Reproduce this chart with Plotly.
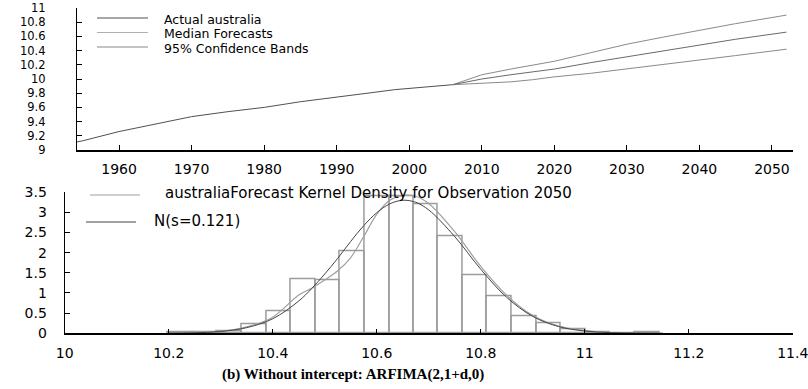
import plotly.graph_objects as go

# ---- top panel: history and forecast path ----
actual_years = [1954, 1955, 1960, 1965, 1970, 1975, 1980, 1985, 1990, 1995, 1998, 2002, 2006]
actual_vals = [9.11, 9.13, 9.26, 9.37, 9.47, 9.54, 9.60, 9.68, 9.75, 9.81, 9.85, 9.89, 9.92]

fc_years = [2006, 2008, 2010, 2014, 2017, 2020, 2025, 2030, 2035, 2040, 2045, 2052]
median_vals = [9.92, 9.96, 10.00, 10.06, 10.10, 10.14, 10.23, 10.31, 10.39, 10.48, 10.56, 10.66]
upper_vals = [9.92, 9.99, 10.06, 10.14, 10.19, 10.25, 10.37, 10.49, 10.59, 10.69, 10.78, 10.90]
lower_vals = [9.92, 9.93, 9.94, 9.96, 9.99, 10.03, 10.08, 10.14, 10.20, 10.27, 10.33, 10.42]

top_xticks = [1960, 1970, 1980, 1990, 2000, 2010, 2020, 2030, 2040, 2050]
top_yticks = [9, 9.2, 9.4, 9.6, 9.8, 10, 10.2, 10.4, 10.6, 10.8, 11]
top_ytext = ["9", "9.2", "9.4", "9.6", "9.8", "10", "10.2", "10.4", "10.6", "10.8", "11"]

# ---- bottom panel: forecast density for 2050 ----
bin_starts = [10.199, 10.246, 10.293, 10.341, 10.388, 10.435, 10.482, 10.529, 10.577, 10.624,
              10.671, 10.718, 10.765, 10.812, 10.860, 10.907, 10.954, 11.001, 11.048, 11.096]
bin_width = 0.0472
bin_heights = [0.02, 0.02, 0.06, 0.22, 0.54, 1.34, 1.31, 2.04, 3.40, 3.40,
               3.20, 2.41, 1.44, 0.93, 0.43, 0.25, 0.10, 0.02, 0.0, 0.025]

dens_x = [10.20, 10.25, 10.30, 10.35, 10.40, 10.45, 10.475, 10.50, 10.525, 10.55, 10.575, 10.60,
          10.625, 10.65, 10.675, 10.70, 10.75, 10.80, 10.85, 10.90, 10.95, 11.00, 11.05, 11.10, 11.15]
kernel_y = [0.01, 0.02, 0.05, 0.16, 0.40, 0.95, 1.12, 1.32, 1.55, 1.88, 2.40, 2.95,
            3.30, 3.42, 3.40, 3.22, 2.52, 1.66, 0.94, 0.44, 0.18, 0.07, 0.02, 0.01, 0.0]
normal_y = [0.003, 0.012, 0.045, 0.14, 0.36, 0.80, 1.11, 1.47, 1.86, 2.28, 2.67, 2.99,
            3.21, 3.30, 3.25, 3.06, 2.40, 1.59, 0.89, 0.42, 0.166, 0.056, 0.016, 0.004, 0.001]

bot_xticks = [10, 10.2, 10.4, 10.6, 10.8, 11, 11.2, 11.4]
bot_xtext = ["10", "10.2", "10.4", "10.6", "10.8", "11", "11.2", "11.4"]
bot_yticks = [0, 0.5, 1, 1.5, 2, 2.5, 3, 3.5]
bot_ytext = ["0", "0.5", "1", "1.5", "2", "2.5", "3", "3.5"]

W, H = 808, 389
FONT = "DejaVu Sans"

C_ACTUAL = "#505050"
C_MEDIAN = "#b0b0b0"
C_MEDIAN_LINE = "#6a6a6a"
C_BANDS = "#8a8a8a"
C_KERNEL = "#a0a0a0"
C_NORMAL = "#444444"
C_BARS = "#9c9c9c"


def px(x):
    return x / W


def py(y):
    return 1 - y / H


fig = go.Figure()

# top panel traces
fig.add_trace(go.Scatter(x=actual_years, y=actual_vals, mode="lines",
                         line=dict(color=C_ACTUAL, width=1), xaxis="x", yaxis="y"))
fig.add_trace(go.Scatter(x=fc_years, y=upper_vals, mode="lines",
                         line=dict(color=C_BANDS, width=1), xaxis="x", yaxis="y"))
fig.add_trace(go.Scatter(x=fc_years, y=lower_vals, mode="lines",
                         line=dict(color=C_BANDS, width=1), xaxis="x", yaxis="y"))
fig.add_trace(go.Scatter(x=fc_years, y=median_vals, mode="lines",
                         line=dict(color=C_MEDIAN_LINE, width=1), xaxis="x", yaxis="y"))

# bottom panel: histogram outlines
bin_centers = [s + bin_width / 2 for s in bin_starts]
fig.add_trace(go.Bar(x=bin_centers, y=bin_heights, width=bin_width,
                     marker=dict(color="rgba(255,255,255,0)",
                                 line=dict(color=C_BARS, width=1.5)),
                     xaxis="x2", yaxis="y2"))
fig.add_trace(go.Scatter(x=dens_x, y=kernel_y, mode="lines", line_shape="spline",
                         line=dict(color=C_KERNEL, width=1.2), xaxis="x2", yaxis="y2"))
fig.add_trace(go.Scatter(x=dens_x, y=normal_y, mode="lines", line_shape="spline",
                         line=dict(color=C_NORMAL, width=1), xaxis="x2", yaxis="y2"))


def axis_style(size):
    return dict(showgrid=False, zeroline=False, ticks="inside", ticklen=5,
                tickcolor="black", linecolor="black", showline=True, automargin=False,
                ticklabeloverflow="allow",
                tickfont=dict(family=FONT, size=size, color="black"))


fig.update_layout(
    width=W, height=H,
    margin=dict(l=0, r=0, t=0, b=0),
    paper_bgcolor="white", plot_bgcolor="white",
    showlegend=False,
    bargap=0,
    xaxis=dict(domain=[px(77), px(793)], range=[1954.2, 2052.9],
               tickmode="array", tickvals=top_xticks, linewidth=2,
               ticklabelstandoff=5, anchor="y", **axis_style(14)),
    yaxis=dict(domain=[py(150), py(8)], range=[9, 11],
               tickmode="array", tickvals=top_yticks, ticktext=top_ytext,
               linewidth=1.2, ticklabelstandoff=28, anchor="x", **axis_style(11.5)),
    xaxis2=dict(domain=[px(64.7), px(793)], range=[10, 11.4005],
                tickmode="array", tickvals=bot_xticks, ticktext=bot_xtext, linewidth=1.5,
                ticklabelstandoff=6, anchor="y2", **axis_style(14)),
    yaxis2=dict(domain=[py(333.3), py(192.2)], range=[0, 3.5],
                tickmode="array", tickvals=bot_yticks, ticktext=bot_ytext,
                linewidth=1.2, ticklabelstandoff=14, anchor="x2", **axis_style(14)),
)

# hand-placed legends
legend_rows = [
    (97, 148, 18, 162, 20, "Actual australia", C_ACTUAL, 12.5),
    (97, 148, 32.5, 162, 34, "Median Forecasts", C_MEDIAN, 12.5),
    (97, 148, 47, 162, 48.5, "95% Confidence Bands", C_BANDS, 12.5),
    (90, 140, 195, 163, 193, "australiaForecast Kernel Density for Observation 2050", C_KERNEL, 15),
    (86, 136, 222, 152, 221, "N(s=0.121)", C_NORMAL, 15),
]
for x0, x1, ly, tx, ty, text, col, fs in legend_rows:
    fig.add_shape(type="line", xref="paper", yref="paper",
                  x0=px(x0), x1=px(x1), y0=py(ly), y1=py(ly),
                  line=dict(color=col, width=1.2))
    fig.add_annotation(xref="paper", yref="paper", x=px(tx), y=py(ty),
                       xanchor="left", yanchor="middle", showarrow=False,
                       text=text, font=dict(family=FONT, size=fs, color="black"))

fig.add_annotation(xref="paper", yref="paper", x=px(353), y=py(374),
                   xanchor="center", yanchor="middle", showarrow=False,
                   text="<b>(b) Without intercept: ARFIMA(2,1+d,0)</b>",
                   font=dict(family="Liberation Serif", size=15, color="black"))

fig.write_html("out.html")
